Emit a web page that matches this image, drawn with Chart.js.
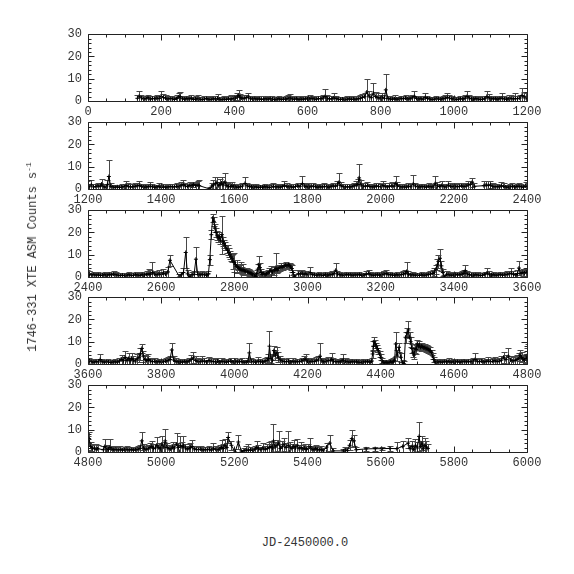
<!DOCTYPE html>
<html>
<head>
<meta charset="utf-8">
<script src="https://cdn.jsdelivr.net/npm/chart.js@4/dist/chart.umd.min.js"></script>
<style>
  html, body { margin: 0; padding: 0; background: #fff; }
  #wrap { position: relative; width: 574px; height: 574px; overflow: hidden; }
  #wrap canvas { position: absolute; left: 0; }
  .lbl { position: absolute; font-family: "Liberation Mono", monospace; font-size: 12px; color: #333; white-space: nowrap; }
  .lbl sup { font-size: 8px; }
  #ylab { left: 32px; top: 257px; transform: translate(-50%, -50%) rotate(-90deg); }
  #xlab { left: 305px; top: 543px; transform: translate(-50%, -50%); }
</style>
</head>
<body>
<div id="wrap">
  <canvas id="p0" width="574" height="100"></canvas>
  <canvas id="p1" width="574" height="100"></canvas>
  <canvas id="p2" width="574" height="100"></canvas>
  <canvas id="p3" width="574" height="100"></canvas>
  <canvas id="p4" width="574" height="100"></canvas>
  <div id="ylab" class="lbl">1746-331 XTE ASM Counts s<sup>-1</sup></div>
  <div id="xlab" class="lbl">JD-2450000.0</div>
</div>
<script>
'use strict';

// Curva de luz ASM, leída a ojo del gráfico: día (JD-2450000), cuentas/s, error
const panelStarts = [0, 1200, 2400, 3600, 4800];
const panelSpan = 1200;
const yTicks = [0, 10, 20, 30];

const days1 = [
  135,140,146,152,158,164,170,176,182,188,
  194,200,206,212,218,224,230,236,242,248,
  252,258,264,270,276,282,288,294,300,306,
  312,318,324,330,336,342,348,354,360,366,
  372,378,384,390,396,402,408,412,416,420,
  426,432,438,444,450,456,462,468,474,480,
  486,492,498,504,510,516,522,528,534,540,
  546,552,558,564,570,576,582,588,594,600,
  606,612,618,624,630,636,642,648,654,660,
  666,672,678,684,690,696,702,708,714,720,
  726,732,738,744,750,756,762,768,774,780,
  786,792,798,804,810,814,820,826,832,838,
  844,850,856,862,868,874,880,886,892,898,
  904,910,916,922,928,934,940,946,952,958,
  964,970,976,982,988,994,1000,1006,1012,1018,
  1024,1030,1036,1042,1048,1054,1060,1066,1072,1078,
  1084,1090,1096,1102,1108,1114,1120,1126,1132,1138,
  1144,1150,1156,1162,1168,1174,1180,1186,1192,1197
];
const rate1 = [
  1.2,2.1,1.4,0.9,1.1,1.5,0.8,1.2,1.0,1.3,
  1.1,2.0,1.6,1.3,0.9,1.2,1.0,0.7,1.1,1.8,
  1.9,1.0,0.8,1.1,0.9,1.2,0.7,0.9,1.0,0.8,
  0.6,0.9,1.1,0.8,0.7,1.0,0.9,1.2,0.8,0.6,
  0.9,0.7,1.0,0.8,1.1,1.2,1.9,2.5,1.6,1.3,
  1.2,1.5,1.8,1.0,0.9,1.1,0.8,1.0,0.7,0.9,
  1.0,0.8,1.1,0.9,0.6,0.8,1.0,0.7,0.9,0.8,
  1.1,1.4,0.9,0.8,1.0,0.7,0.9,0.8,1.0,0.9,
  1.0,1.2,0.9,0.8,1.1,1.0,1.3,2.0,1.2,0.9,
  1.0,1.4,1.1,0.8,0.7,0.9,0.6,0.8,1.0,0.7,
  0.9,0.8,1.0,1.2,1.6,1.9,4.0,2.2,1.5,3.5,
  2.0,1.5,1.3,1.7,1.2,5.0,1.1,0.9,0.8,1.0,
  0.8,0.9,1.1,1.0,1.3,0.9,1.0,1.4,2.0,1.1,
  0.9,1.0,0.8,1.6,1.1,0.9,0.7,0.8,1.0,0.9,
  0.8,1.0,1.2,1.7,1.3,1.0,0.9,0.7,0.8,1.0,
  0.9,1.2,2.0,1.3,1.0,0.8,1.1,0.9,0.7,0.8,
  1.0,1.9,1.4,1.1,0.9,1.0,0.8,1.1,1.3,0.9,
  0.8,1.0,1.2,0.9,1.1,1.0,1.3,2.5,1.8,1.5
];
const err1 = [
  1.4,2.2,1.3,1.2,1.1,1.3,1.4,1.2,1.3,1.5,
  1.3,2.3,1.5,1.2,1.4,1.1,1.3,1.2,1.4,2.0,
  2.1,1.4,1.2,1.3,1.1,1.4,1.2,1.3,1.7,1.2,
  1.1,1.3,1.2,1.4,1.1,1.2,1.3,1.8,1.1,1.2,
  1.2,1.1,1.4,2.0,1.2,1.3,1.5,2.5,1.4,1.3,
  1.3,1.4,2.0,1.2,1.1,1.3,1.2,1.1,1.4,1.2,
  1.3,1.2,1.1,1.5,1.2,1.1,1.3,1.2,1.1,1.4,
  1.6,1.9,1.3,1.1,1.2,1.4,1.1,1.3,1.2,1.1,
  1.5,1.2,1.1,1.3,1.2,1.4,1.5,3.4,1.3,1.2,
  1.3,2.1,1.2,1.1,1.2,1.0,1.1,1.3,1.2,1.1,
  1.2,1.3,1.1,1.4,1.7,1.8,5.7,2.1,1.6,4.6,
  2.2,1.9,1.6,2.0,1.5,7.0,1.3,1.2,1.1,1.7,
  1.2,1.1,1.3,1.2,1.4,1.1,1.3,1.5,2.3,1.2,
  1.1,1.2,1.3,2.1,1.2,1.1,1.3,1.0,1.2,1.1,
  1.2,1.3,1.4,2.0,1.5,1.2,1.1,1.3,1.2,1.1,
  1.2,1.5,2.6,1.4,1.2,1.1,1.3,1.2,1.1,1.3,
  1.2,2.4,1.6,1.2,1.1,1.3,1.2,1.1,2.1,1.2,
  1.1,1.5,1.3,1.2,2.3,1.4,1.5,3.2,2.3,2.0
];

const days2 = [
  1203,1209,1215,1221,1227,1233,1237,1243,1249,1253,
  1257,1262,1268,1274,1280,1286,1292,1298,1304,1310,
  1316,1322,1328,1334,1340,1346,1352,1358,1364,1370,
  1376,1382,1388,1394,1400,1406,1412,1418,1424,1430,
  1436,1442,1448,1454,1460,1466,1472,1478,1484,1488,
  1494,1500,1504,1533,1538,1543,1548,1552,1557,1561,
  1565,1569,1574,1579,1584,1589,1593,1598,1604,1610,
  1616,1622,1629,1635,1641,1647,1653,1659,1665,1671,
  1677,1683,1689,1695,1701,1707,1713,1719,1725,1731,
  1737,1743,1749,1755,1761,1767,1773,1779,1786,1792,
  1798,1804,1810,1816,1822,1828,1834,1840,1846,1852,
  1858,1864,1870,1876,1882,1886,1891,1897,1903,1909,
  1915,1921,1927,1933,1937,1941,1946,1952,1958,1964,
  1970,1976,1982,1988,1994,2000,2006,2012,2018,2024,
  2030,2036,2041,2046,2052,2058,2064,2070,2076,2082,
  2089,2095,2101,2107,2113,2119,2125,2131,2137,2143,
  2149,2155,2161,2167,2173,2179,2185,2191,2197,2203,
  2209,2215,2221,2227,2233,2239,2245,2250,2256,2282,
  2288,2294,2300,2306,2312,2318,2324,2330,2336,2342,
  2348,2354,2360,2366,2372,2378,2384,2390,2396,2402
];
const rate2 = [
  1.0,1.8,0.9,1.1,1.4,1.2,2.2,1.0,0.8,1.9,
  5.6,1.2,0.9,0.8,1.0,0.7,0.9,1.1,1.5,1.2,
  0.9,1.0,1.2,1.4,1.6,1.1,0.8,0.9,1.0,1.3,
  1.0,0.8,0.9,1.2,0.7,1.0,0.8,0.9,1.1,1.0,
  0.9,1.2,1.0,1.5,2.0,1.3,1.1,1.6,1.4,2.0,
  1.6,1.8,1.5,0.0,1.3,1.8,2.4,2.8,1.5,2.2,
  2.6,1.8,3.0,1.5,1.2,1.0,1.4,1.1,0.9,0.8,
  1.0,1.3,2.5,1.4,1.1,0.9,0.8,1.0,0.7,0.9,
  0.8,1.0,0.9,0.7,0.8,1.2,0.9,1.0,0.8,1.1,
  1.5,1.2,0.9,1.0,0.8,1.1,1.4,1.2,2.4,1.3,
  1.0,0.9,1.1,1.3,1.0,0.8,1.0,0.9,1.2,1.0,
  0.8,1.1,1.4,1.2,1.8,3.0,1.6,1.1,0.9,1.0,
  0.9,1.1,1.4,1.8,2.0,5.0,1.9,1.3,1.2,1.5,
  1.1,1.0,0.9,1.3,1.2,1.0,1.6,1.2,0.9,1.1,
  1.4,1.2,2.5,1.5,1.1,0.9,1.0,0.8,1.2,1.0,
  2.3,1.3,1.0,0.9,1.1,1.0,0.8,1.2,1.0,0.9,
  2.4,1.4,1.1,1.6,1.0,0.9,1.8,1.2,1.1,1.3,
  1.0,1.2,1.4,1.1,1.3,1.8,2.0,3.0,1.2,1.5,
  1.8,1.6,1.9,1.2,1.0,1.1,0.9,1.4,1.2,0.9,
  0.8,1.0,1.2,0.9,1.1,1.3,1.0,0.8,1.4,1.2
];
const err2 = [
  1.3,2.4,1.2,1.1,1.5,1.3,2.4,1.2,1.3,2.0,
  7.4,1.4,1.1,1.2,1.0,1.3,1.2,1.1,2.0,1.3,
  1.2,1.1,1.4,1.5,1.9,1.2,1.1,1.3,1.2,1.7,
  1.4,1.2,1.1,1.3,1.2,1.1,1.3,1.2,1.1,1.4,
  1.2,1.3,1.2,1.6,2.2,1.4,1.2,1.5,1.3,1.2,
  1.4,1.6,2.7,1.1,1.5,2.2,2.8,2.8,1.7,2.4,
  3.0,2.0,4.1,1.6,1.3,1.2,1.6,1.2,1.1,1.3,
  1.2,1.4,3.1,1.5,1.2,1.1,1.3,1.1,1.2,1.0,
  1.1,1.2,1.0,1.1,1.3,1.3,1.2,1.1,1.2,1.3,
  2.0,1.3,1.1,1.2,1.3,1.1,1.5,1.3,3.6,1.4,
  1.2,1.1,1.5,1.3,1.2,1.1,1.3,1.2,1.4,1.1,
  1.1,1.2,1.5,1.4,1.9,4.1,1.7,1.3,1.2,1.1,
  1.2,1.3,1.5,2.0,2.3,6.4,2.0,1.4,1.3,1.6,
  1.2,1.3,1.1,1.5,1.3,1.2,2.0,1.3,1.1,1.4,
  1.6,1.3,3.5,1.6,1.2,1.3,1.1,1.2,1.5,1.1,
  4.2,1.5,1.2,1.1,1.3,1.2,1.1,1.3,1.2,1.1,
  3.6,1.6,1.3,1.8,1.2,1.1,2.0,1.4,1.2,1.5,
  1.2,1.3,1.4,1.2,1.3,1.6,1.8,1.9,1.3,2.0,
  1.7,1.9,1.6,1.3,1.2,1.3,1.1,1.6,1.3,1.1,
  1.1,1.2,1.4,1.1,1.2,1.5,1.2,1.1,1.6,1.3
];

const days3 = [
  2404,2410,2416,2422,2428,2434,2440,2446,2452,2458,
  2464,2470,2476,2482,2488,2494,2500,2506,2512,2518,
  2524,2530,2536,2542,2548,2554,2560,2566,2570,2576,
  2582,2588,2594,2600,2606,2612,2618,2624,2650,2655,
  2661,2667,2672,2678,2684,2690,2695,2700,2706,2712,
  2718,2724,2729,2733,2737,2741,2744,2747,2750,2753,
  2756,2759,2762,2766,2769,2772,2775,2779,2782,2785,
  2788,2791,2794,2797,2800,2803,2806,2809,2812,2815,
  2818,2821,2824,2827,2830,2834,2837,2840,2843,2846,
  2849,2852,2855,2858,2861,2864,2867,2870,2873,2876,
  2880,2884,2888,2892,2896,2900,2904,2908,2911,2914,
  2917,2920,2924,2928,2932,2936,2940,2944,2948,2951,
  2954,2957,2960,2964,2975,2980,2985,2990,2995,3001,
  3007,3013,3019,3025,3031,3037,3043,3049,3055,3061,
  3067,3072,3077,3082,3088,3094,3100,3106,3112,3118,
  3124,3130,3136,3142,3148,3154,3160,3167,3173,3179,
  3185,3191,3197,3203,3209,3215,3220,3226,3232,3238,
  3244,3250,3256,3262,3267,3271,3276,3282,3288,3294,
  3300,3306,3312,3318,3324,3330,3336,3342,3347,3351,
  3355,3358,3362,3366,3370,3374,3380,3386,3392,3398,
  3404,3410,3416,3422,3427,3431,3436,3442,3448,3454,
  3460,3466,3472,3478,3484,3491,3497,3503,3509,3515,
  3521,3527,3533,3539,3545,3551,3557,3563,3569,3574,
  3578,3583,3588,3593,3598,3604
];
const rate3 = [
  1.2,0.9,1.1,0.8,1.0,0.7,0.9,1.0,0.8,1.1,
  0.9,1.3,1.0,0.8,0.7,0.9,0.6,0.8,1.0,0.7,
  0.8,1.0,0.9,0.7,1.1,0.9,1.2,1.4,1.2,2.0,
  1.3,1.0,1.4,1.1,1.8,1.3,2.2,7.5,0.1,1.0,
  2.0,11.0,1.4,0.2,1.0,1.2,8.0,1.1,0.9,1.2,
  1.0,0.8,1.3,7.8,19.0,26.5,25.0,22.0,20.0,18.5,
  17.5,18.0,16.5,19.0,16.0,15.0,14.0,12.7,12.0,11.0,
  10.0,9.0,8.2,7.0,6.5,5.6,4.8,4.5,4.0,3.6,
  3.4,3.0,3.3,2.8,2.6,2.6,2.2,2.0,1.9,1.6,
  1.2,0.9,0.5,0.2,1.5,3.5,5.5,4.2,2.0,1.2,
  1.5,1.0,1.4,1.8,2.4,3.0,2.2,2.8,3.2,4.0,
  3.0,3.8,4.2,4.6,4.4,5.0,5.3,5.0,5.5,5.2,
  4.5,3.8,2.0,0.2,1.5,1.3,1.8,1.2,1.5,1.0,
  2.0,1.1,0.9,0.8,1.0,0.9,0.7,1.1,0.8,1.0,
  1.2,1.5,3.0,1.4,1.0,0.9,0.8,1.1,0.9,1.0,
  0.8,1.0,0.9,1.1,0.7,0.9,1.2,1.6,1.0,0.8,
  0.9,1.0,0.8,1.1,1.3,1.6,1.2,1.0,0.9,0.8,
  1.0,0.9,1.1,1.3,1.6,2.5,1.2,0.9,1.0,0.8,
  0.9,0.7,1.0,0.8,0.9,1.1,1.3,1.6,2.2,3.5,
  5.5,7.0,8.4,5.0,2.0,0.0,1.2,1.0,0.8,0.9,
  1.1,0.9,1.0,1.3,1.6,2.8,1.4,1.0,0.9,0.8,
  1.0,0.9,0.7,0.8,1.1,1.8,1.2,0.9,1.0,0.8,
  0.9,1.1,0.8,1.0,1.2,1.4,1.7,1.2,0.9,1.5,
  4.0,1.6,2.0,1.8,2.2,1.5
];
const err3 = [
  1.3,1.1,1.2,1.0,1.1,1.2,1.0,1.3,1.1,1.2,
  1.1,1.4,1.2,1.0,1.1,0.9,1.0,1.1,1.2,1.0,
  1.0,1.1,1.2,1.0,1.3,1.1,1.6,2.2,1.8,4.6,
  1.5,1.2,1.6,1.3,2.0,1.5,2.4,2.6,1.2,1.3,
  2.2,7.0,1.6,1.1,1.2,1.4,5.3,1.2,1.1,1.3,
  1.2,1.0,1.5,2.2,2.0,1.8,2.0,1.8,1.9,2.0,
  2.0,2.2,1.9,8.5,2.0,1.8,1.9,1.7,2.2,1.8,
  1.7,1.8,1.6,3.5,4.2,2.0,3.0,1.5,1.7,1.6,
  3.5,1.5,2.6,1.4,1.6,1.3,1.5,1.4,1.3,1.2,
  1.1,1.0,1.0,1.2,1.5,2.5,4.0,2.0,1.6,1.3,
  1.2,1.3,1.5,1.4,1.6,1.8,1.5,1.7,1.6,7.0,
  1.4,1.5,1.4,1.6,1.2,1.4,1.3,1.5,1.0,1.2,
  1.3,1.5,1.2,1.1,1.6,1.4,1.5,1.6,1.3,1.2,
  2.3,1.2,1.1,1.0,1.2,1.1,1.0,1.2,1.1,1.3,
  1.3,1.4,3.4,1.3,1.1,1.0,1.2,1.3,1.1,1.2,
  1.1,1.2,1.0,1.3,1.1,1.0,1.4,1.7,1.2,1.1,
  1.0,1.2,1.1,1.3,1.4,1.5,1.2,1.1,1.0,1.2,
  1.1,1.2,1.0,1.4,1.5,4.2,1.3,1.1,1.2,1.0,
  1.0,1.1,1.2,1.0,1.1,1.3,1.4,1.5,1.8,2.0,
  2.5,3.0,4.3,2.2,1.5,1.0,1.3,1.1,1.0,1.2,
  1.2,1.1,1.3,1.2,1.5,2.4,1.3,1.1,1.2,1.0,
  1.1,1.2,1.0,1.1,1.3,2.2,1.3,1.1,1.2,1.0,
  1.0,1.2,1.1,1.3,1.4,1.5,2.3,1.3,1.1,1.6,
  3.0,1.5,1.7,1.5,1.8,1.4
];

const days4 = [
  3610,3616,3622,3628,3633,3638,3644,3650,3656,3662,
  3668,3674,3680,3686,3692,3697,3701,3706,3711,3715,
  3719,3724,3729,3734,3739,3743,3747,3751,3756,3760,
  3765,3770,3776,3782,3788,3794,3800,3806,3812,3818,
  3824,3829,3834,3840,3846,3852,3858,3864,3870,3876,
  3882,3888,3894,3900,3906,3912,3918,3924,3930,3936,
  3942,3948,3954,3960,3966,3972,3978,3984,3990,3996,
  4002,4008,4014,4020,4026,4032,4037,4041,4046,4052,
  4058,4065,4071,4077,4083,4089,4093,4096,4100,4104,
  4108,4112,4116,4120,4125,4130,4136,4142,4148,4154,
  4160,4166,4172,4178,4184,4190,4195,4200,4206,4212,
  4218,4224,4229,4234,4239,4244,4250,4256,4262,4266,
  4271,4277,4283,4289,4294,4298,4304,4310,4316,4322,
  4328,4334,4340,4346,4352,4358,4364,4370,4375,4378,
  4380,4382,4385,4388,4391,4394,4397,4400,4403,4407,
  4411,4415,4419,4423,4427,4431,4435,4438,4441,4445,
  4450,4455,4460,4464,4468,4472,4476,4479,4482,4485,
  4488,4491,4494,4497,4500,4503,4506,4509,4512,4515,
  4518,4521,4524,4527,4530,4533,4536,4539,4542,4545,
  4548,4551,4556,4562,4568,4574,4580,4586,4592,4598,
  4604,4610,4616,4622,4628,4634,4640,4646,4652,4658,
  4664,4670,4676,4682,4688,4694,4700,4706,4712,4718,
  4724,4730,4736,4742,4749,4755,4761,4767,4772,4777,
  4781,4785,4789,4793,4797
];
const rate4 = [
  1.0,0.8,1.1,0.9,2.0,1.2,0.8,1.0,0.9,0.7,
  0.9,1.0,0.8,1.3,2.0,1.5,3.0,1.6,2.5,1.4,
  2.4,1.8,1.3,2.2,3.0,4.5,7.0,3.5,2.0,1.6,
  2.0,1.4,1.0,1.2,0.9,1.1,0.8,1.0,1.3,1.5,
  2.0,6.3,1.8,1.2,0.9,1.0,0.8,1.1,0.9,1.3,
  2.0,2.8,1.6,1.2,1.0,1.4,1.2,0.9,1.6,1.3,
  1.1,1.0,1.3,0.9,1.2,1.0,0.8,1.1,1.3,0.9,
  1.2,0.9,1.0,1.1,0.8,0.9,1.2,5.0,1.3,1.0,
  0.8,1.3,1.0,0.9,1.2,1.6,2.5,8.0,2.5,1.8,
  6.0,4.0,5.0,3.0,1.8,1.4,1.1,1.0,1.3,0.9,
  1.2,0.9,1.1,1.0,1.4,1.8,2.2,1.2,1.0,1.3,
  1.1,1.5,1.8,3.5,1.4,1.0,1.2,1.5,1.6,2.0,
  1.3,1.0,1.1,0.9,1.4,1.8,1.2,1.0,0.8,1.1,
  0.9,1.0,0.8,0.7,1.0,0.9,1.1,0.8,1.2,4.5,
  8.0,10.0,9.0,8.0,7.0,6.0,4.5,3.0,1.5,0.8,
  0.6,0.9,0.5,0.7,1.0,0.8,1.2,1.5,9.0,4.0,
  7.5,3.0,0.5,0.1,12.0,14.0,15.3,12.0,10.0,7.0,
  5.0,4.0,7.0,6.5,9.0,8.0,8.5,7.5,8.0,7.8,
  7.2,7.5,6.8,7.0,6.5,6.2,6.0,5.2,3.5,2.0,
  1.0,0.7,0.9,1.0,0.8,1.1,0.9,1.2,0.8,1.0,
  0.9,1.1,0.8,1.0,1.2,0.9,1.1,1.0,1.3,2.0,
  1.2,1.0,1.3,0.9,1.1,1.4,1.0,1.2,1.5,1.1,
  1.3,1.7,3.0,2.0,3.5,1.8,1.4,1.6,2.0,2.5,
  4.0,3.0,2.2,1.8,2.5
];
const err4 = [
  1.1,1.2,1.0,1.3,2.6,1.2,1.1,1.0,1.2,1.1,
  1.1,1.2,1.0,1.5,2.2,1.8,3.0,1.7,2.4,1.5,
  2.6,2.0,1.5,2.3,2.1,2.5,2.1,2.4,2.1,1.8,
  2.5,1.5,1.2,1.3,1.1,1.2,1.1,1.3,1.4,1.7,
  1.8,3.3,1.7,1.3,1.1,1.2,1.0,1.2,1.1,1.4,
  2.2,2.4,1.8,1.3,1.2,2.2,1.3,1.1,1.6,1.5,
  1.6,1.2,1.4,1.1,1.7,1.2,1.0,1.3,1.4,1.1,
  1.3,1.1,1.2,1.4,1.0,1.1,1.3,4.3,1.4,1.2,
  1.0,1.7,1.2,1.1,1.3,1.5,2.0,7.0,2.2,2.0,
  2.0,2.2,2.5,2.3,1.6,1.5,1.2,1.1,1.4,1.0,
  1.3,1.1,1.2,1.1,1.4,1.6,2.4,1.3,1.2,1.4,
  1.3,1.6,2.0,5.8,1.5,1.2,1.3,1.5,1.7,3.0,
  1.4,1.2,1.3,1.1,1.5,2.5,1.3,1.2,1.0,1.2,
  1.1,1.2,1.0,1.1,1.2,1.0,1.3,1.1,1.4,2.0,
  2.2,2.0,1.8,1.6,1.5,1.4,1.3,1.4,1.2,1.1,
  1.0,1.1,1.2,1.0,1.3,1.1,1.5,1.6,5.3,2.5,
  2.1,2.0,1.4,1.2,2.5,2.2,3.8,2.5,2.2,2.0,
  2.0,1.8,2.2,2.0,1.9,1.6,1.7,1.5,1.6,1.4,
  1.5,1.4,1.3,1.6,1.4,1.3,1.5,1.2,1.3,1.2,
  1.1,1.0,1.2,1.1,1.0,1.2,1.1,1.3,1.0,1.2,
  1.0,1.2,1.1,1.3,1.2,1.0,1.1,1.2,1.4,2.8,
  1.3,1.2,1.5,1.1,1.2,1.6,1.2,1.3,1.7,1.2,
  1.5,1.9,2.6,2.2,3.9,2.0,1.6,1.8,2.1,2.4,
  2.5,2.3,2.0,1.8,2.2
];

const days5 = [
  4801,4803,4807,4812,4817,4822,4826,4842,4846,4851,
  4856,4860,4865,4870,4876,4882,4888,4894,4900,4906,
  4912,4918,4924,4930,4936,4942,4947,4952,4958,4964,
  4969,4974,4979,4984,4988,4993,4998,5002,5007,5011,
  5016,5021,5026,5031,5036,5042,5047,5052,5057,5061,
  5066,5071,5076,5080,5084,5090,5096,5102,5108,5114,
  5120,5126,5132,5137,5143,5149,5155,5160,5165,5170,
  5174,5179,5183,5192,5202,5211,5220,5226,5232,5238,
  5244,5250,5256,5261,5266,5272,5278,5284,5290,5295,
  5300,5304,5307,5311,5316,5321,5326,5331,5336,5341,
  5347,5352,5357,5362,5367,5372,5377,5382,5387,5392,
  5397,5402,5407,5412,5417,5422,5427,5432,5437,5443,
  5452,5461,5470,5498,5503,5509,5515,5521,5527,5533,
  5560,5585,5603,5625,5644,5660,5675,5680,5686,5690,
  5695,5700,5705,5709,5713,5717,5721,5725,5729
];
const rate5 = [
  4.0,6.0,2.5,1.5,1.8,1.2,1.5,1.0,2.5,1.3,
  1.1,2.0,1.3,1.0,1.2,0.9,1.1,0.8,1.0,1.2,
  0.9,1.1,0.8,1.0,1.2,1.6,5.0,1.8,1.2,1.4,
  2.0,2.5,1.6,1.8,3.0,2.0,1.5,3.5,2.2,5.0,
  2.0,1.5,1.3,2.2,1.8,3.5,2.0,3.0,2.2,2.8,
  1.8,1.3,1.6,2.0,2.5,1.4,1.2,1.0,1.3,0.9,
  1.1,1.0,1.3,0.8,1.5,1.2,1.0,1.4,2.0,1.6,
  3.0,2.0,6.5,3.0,0.0,4.5,0.1,0.6,0.9,0.8,
  1.0,0.7,1.2,2.0,1.5,1.0,1.8,1.2,1.6,2.0,
  2.5,1.8,5.0,2.2,3.0,4.0,1.6,2.4,3.5,2.0,
  3.0,2.2,1.6,2.5,1.8,2.8,1.5,2.0,1.4,1.7,
  1.2,1.6,2.4,1.3,1.0,1.5,1.2,0.9,1.1,0.5,
  2.2,4.0,0.5,0.5,0.9,0.6,3.0,6.0,5.0,1.0,
  1.4,1.5,1.5,1.6,1.5,2.5,4.0,1.5,2.5,1.2,
  3.0,1.8,7.0,2.5,4.0,1.5,3.0,2.2,1.6
];
const err5 = [
  3.0,3.0,2.2,1.8,2.0,2.4,1.6,1.5,3.2,2.0,
  1.6,3.7,1.5,1.3,1.4,1.2,1.5,1.1,1.3,1.4,
  1.2,1.3,1.1,1.2,1.4,1.7,4.0,2.0,1.5,1.6,
  2.0,2.3,1.8,2.0,3.8,2.2,1.7,3.8,2.4,5.4,
  2.0,1.8,1.6,2.5,2.0,5.0,2.2,4.0,2.4,4.2,
  2.0,1.6,1.8,2.2,3.0,1.5,1.4,1.2,1.6,1.3,
  1.3,1.2,1.5,1.4,2.5,1.5,1.2,1.6,3.5,2.0,
  3.0,2.2,2.5,2.0,1.2,3.2,1.0,1.2,1.6,2.8,
  1.3,1.2,1.4,3.0,1.6,1.3,2.2,1.5,1.8,2.3,
  2.5,2.0,7.4,2.4,2.6,5.4,1.8,2.6,3.0,2.2,
  6.4,2.4,2.0,3.0,2.0,3.2,1.8,2.5,1.6,1.9,
  1.5,2.0,3.7,1.6,1.4,1.8,1.5,1.3,1.4,1.2,
  2.0,3.6,1.2,1.0,1.3,1.4,2.2,3.7,2.5,1.4,
  0.8,0.9,0.8,1.0,2.9,2.6,2.4,1.8,2.5,1.6,
  2.8,2.5,6.5,2.4,3.0,2.0,3.5,2.6,2.2
];

const allDays = [...days1, ...days2, ...days3, ...days4, ...days5];
const allRate = [...rate1, ...rate2, ...rate3, ...rate4, ...rate5];
const allErr = [...err1, ...err2, ...err3, ...err4, ...err5];
if (allDays.length !== allRate.length || allDays.length !== allErr.length) {
  console.error('longitudes distintas', allDays.length, allRate.length, allErr.length);
}

const PANEL_TOPS = [31, 119, 207, 294, 382];
const TEXT_COLOR = '#333';
const FONT = { family: '"Liberation Mono", monospace', size: 12 };

// barras de error: gris oscuro, con tapas cortas, recortadas al área del panel
const errorBarPlugin = {
  id: 'errorBars',
  beforeDatasetsDraw(chart) {
    const { ctx, chartArea: a, scales: { x, y } } = chart;
    const pts = chart.data.datasets[0].data;
    ctx.save();
    ctx.beginPath();
    ctx.rect(a.left, a.top, a.right - a.left, a.bottom - a.top);
    ctx.clip();
    ctx.strokeStyle = '#484848';
    ctx.lineWidth = 1;
    ctx.beginPath();
    for (const p of pts) {
      if (p.x < x.min - 5 || p.x > x.max + 5) continue;
      const px = Math.round(x.getPixelForValue(p.x)) + 0.5;
      const yt = Math.round(y.getPixelForValue(p.y + p.e)) + 0.5;
      const yb = Math.round(y.getPixelForValue(p.y - p.e)) + 0.5;
      ctx.moveTo(px, yt); ctx.lineTo(px, yb);
      ctx.moveTo(px - 3, yt); ctx.lineTo(px + 3, yt);
      ctx.moveTo(px - 3, yb); ctx.lineTo(px + 3, yb);
    }
    ctx.stroke();
    ctx.restore();
  }
};

// marco completo con marcas hacia dentro, al estilo PGPLOT
const framePlugin = {
  id: 'frame',
  afterDraw(chart) {
    const { ctx, chartArea: a, scales: { x, y } } = chart;
    const L = Math.round(a.left) + 0.5, R = Math.round(a.right) + 0.5;
    const T = Math.round(a.top) + 0.5, B = Math.round(a.bottom) + 0.5;
    ctx.save();
    ctx.strokeStyle = '#222';
    ctx.lineWidth = 1;
    ctx.beginPath();
    ctx.rect(L, T, R - L, B - T);
    for (let v = x.min; v <= x.max; v += 50) {
      const px = Math.round(x.getPixelForValue(v)) + 0.5;
      const len = v % 200 === 0 ? 6 : 3;
      ctx.moveTo(px, B); ctx.lineTo(px, B - len);
      ctx.moveTo(px, T); ctx.lineTo(px, T + len);
    }
    for (let v = y.min; v <= y.max; v += 2) {
      const py = Math.round(y.getPixelForValue(v)) + 0.5;
      const len = v % 10 === 0 ? 6 : 3;
      ctx.moveTo(L, py); ctx.lineTo(L + len, py);
      ctx.moveTo(R, py); ctx.lineTo(R - len, py);
    }
    ctx.stroke();
    ctx.restore();
  }
};

function makePanel(i) {
  const lo = panelStarts[i];
  const hi = lo + panelSpan;
  const canvas = document.getElementById('p' + i);
  canvas.style.top = (PANEL_TOPS[i] - 10) + 'px';
  const pts = allDays.map((d, k) => ({ x: d, y: allRate[k], e: allErr[k] }));
  return new Chart(canvas, {
    type: 'line',
    data: {
      datasets: [{
        data: pts,
        borderColor: '#000',
        borderWidth: 1,
        tension: 0,
        pointStyle: 'cross',
        pointRadius: 2,
        pointBorderColor: '#000',
        pointBorderWidth: 1,
        clip: 0,
      }],
    },
    options: {
      responsive: false,
      animation: false,
      devicePixelRatio: 1,
      events: [],
      layout: { padding: { top: 10, right: 47, bottom: 0, left: 0 } },
      plugins: { legend: { display: false }, tooltip: { enabled: false } },
      scales: {
        x: {
          type: 'linear',
          min: lo,
          max: hi,
          afterFit(s) { s.height = 20; },
          grid: { display: false, drawTicks: false },
          border: { display: false },
          ticks: {
            stepSize: 200, autoSkip: false, maxRotation: 0, padding: 4,
            color: TEXT_COLOR, font: FONT, callback: (v) => String(v),
          },
        },
        y: {
          min: yTicks[0],
          max: yTicks[yTicks.length - 1],
          afterFit(s) { s.width = 88; },
          grid: { display: false, drawTicks: false },
          border: { display: false },
          ticks: {
            stepSize: 10, padding: 6,
            color: TEXT_COLOR, font: FONT, callback: (v) => String(v),
          },
        },
      },
    },
    plugins: [errorBarPlugin, framePlugin],
  });
}

panelStarts.forEach((_, i) => makePanel(i));
</script>
</body>
</html>
